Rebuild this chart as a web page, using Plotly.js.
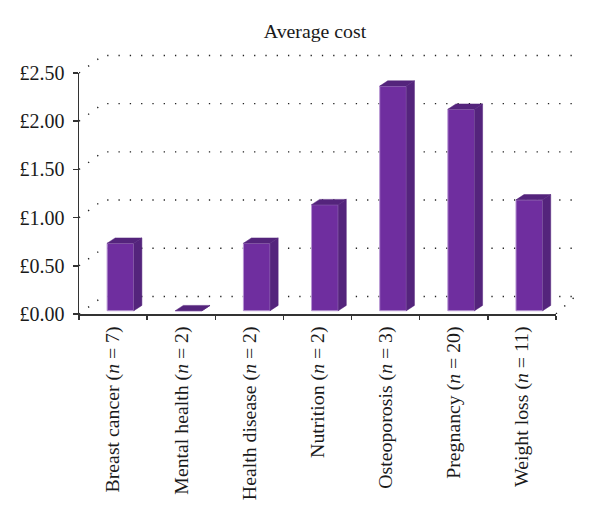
<!DOCTYPE html>
<html>
<head>
<meta charset="utf-8">
<script src="https://cdn.plot.ly/plotly-3.0.1.min.js"></script>
<style>html,body{margin:0;padding:0;background:#fff}</style>
</head>
<body>
<div id="chart" style="width:600px;height:524px"></div>
<script>
var categories = ["Breast cancer (<i>n</i> = 7)","Mental health (<i>n</i> = 2)","Health disease (<i>n</i> = 2)","Nutrition (<i>n</i> = 2)","Osteoporosis (<i>n</i> = 3)","Pregnancy (<i>n</i> = 20)","Weight loss (<i>n</i> = 11)"];
var averageCost = [0.70, 0, 0.70, 1.10, 2.33, 2.09, 1.15];
var yTicks = [0, 0.5, 1, 1.5, 2, 2.5];
var yLabels = ["£0.00","£0.50","£1.00","£1.50","£2.00","£2.50"];

var SERIF = '"Liberation Serif", serif';
var INK = '#333333';
var FRONT = '#6f2e9f', DARK = '#54247c', EDGE = '#b795d3';

// 3-D projection offsets, in axis units
var WALL_DX = 0.352, WALL_DY = 0.182;   // depth of floor / back wall
var BAR_DX = 0.118, BAR_DY = 0.055;     // depth of a bar
var BAR_W = 0.392, BAR_SHIFT = 0.109, FLOOR = 0.034;
var XL = -0.5, XR = 6.5, YMAX = 2.5;

// The wall subplot is larger than the bar subplot, at the same scale
var DOM_X = 476.7 / 520.7, DOM_Y = 241 / 274;

var gridX = [], gridY = [];
yTicks.forEach(function (t) {
  gridX.push(XL, XL + WALL_DX, XR + WALL_DX * 0.8, null);
  gridY.push(t, t + WALL_DY, t + WALL_DY, null);
});
gridX.push(XR, XR + WALL_DX * 0.8);
gridY.push(0, WALL_DY);

var sideX = [], sideY = [], topX = [], topY = [];
averageCost.forEach(function (v, i) {
  var l = i + BAR_SHIFT - BAR_W / 2, r = i + BAR_SHIFT + BAR_W / 2, b = FLOOR, t = FLOOR + v;
  sideX.push(r, r + BAR_DX, r + BAR_DX, r, r, null);
  sideY.push(b, b + BAR_DY, t + BAR_DY, t, b, null);
  topX.push(l, l + BAR_DX, r + BAR_DX, r, l, null);
  topY.push(t, t + BAR_DY, t + BAR_DY, t, t, null);
});

var traces = [
  {type:'scatter', xaxis:'x', yaxis:'y', mode:'lines', x:gridX, y:gridY, hoverinfo:'skip',
   line:{color:'#222222', width:1.4, dash:'1.3px,10px'}},
  {type:'bar', xaxis:'x2', yaxis:'y2', x:categories, y:averageCost, base:FLOOR, width:BAR_W, offset:BAR_SHIFT - BAR_W / 2,
   marker:{color:FRONT, line:{color:EDGE, width:1}}},
  {type:'scatter', xaxis:'x3', yaxis:'y2', mode:'lines', x:sideX, y:sideY, fill:'toself', fillcolor:DARK, hoverinfo:'skip',
   line:{color:DARK, width:0.5}},
  {type:'scatter', xaxis:'x3', yaxis:'y2', mode:'lines', x:topX, y:topY, fill:'toself', fillcolor:DARK, hoverinfo:'skip',
   line:{color:DARK, width:0.5}}
];

var layout = {
  width:600, height:524, showlegend:false,
  paper_bgcolor:'#ffffff', plot_bgcolor:'rgba(0,0,0,0)',
  margin:{l:79.3, r:0, t:40, b:210, pad:0},
  title:{text:'Average cost', x:315/600, xanchor:'center', y:1 - 31/524, yanchor:'middle',
         font:{family:SERIF, size:19.8, color:'#1a1a1a'}},
  xaxis:{type:'linear', domain:[0, 1], range:[XL, XL + (XR - XL) / DOM_X], visible:false, fixedrange:true},
  yaxis:{type:'linear', domain:[0, 1], range:[0, YMAX / DOM_Y], visible:false, fixedrange:true},
  xaxis3:{type:'linear', domain:[0, DOM_X], range:[XL, XR], visible:false, overlaying:'x2', anchor:'y2', fixedrange:true},
  xaxis2:{type:'category', domain:[0, DOM_X], anchor:'y2', categoryorder:'array', categoryarray:categories, range:[XL, XR], fixedrange:true,
         tickson:'boundaries', ticks:'outside', ticklen:4, tickwidth:1.5, tickcolor:INK,
         showline:true, linecolor:INK, linewidth:1.5, showgrid:false, zeroline:false,
         tickangle:-90, ticklabelstandoff:3, automargin:false,
         tickfont:{family:SERIF, size:19.8, color:'#1a1a1a'}},
  yaxis2:{domain:[0, DOM_Y], anchor:'x2', range:[0, YMAX], tickmode:'array', tickvals:yTicks, ticktext:yLabels, fixedrange:true,
         ticks:'outside', ticklen:5, tickwidth:1.5, tickcolor:INK,
         showline:true, linecolor:INK, linewidth:1.5, showgrid:false, zeroline:false,
         ticklabelstandoff:4, automargin:false,
         tickfont:{family:SERIF, size:20, color:'#1a1a1a'}}
};
Plotly.newPlot('chart', traces, layout, {displayModeBar:false, staticPlot:true});
</script>
</body>
</html>
